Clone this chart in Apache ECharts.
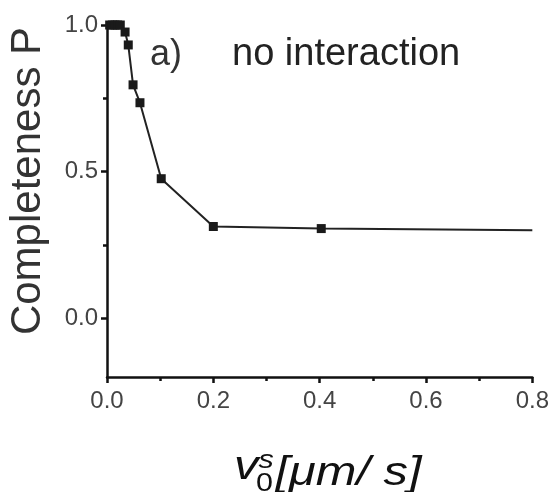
<!DOCTYPE html>
<html>
<head>
<meta charset="utf-8">
<script src="https://cdn.jsdelivr.net/npm/echarts@6/dist/echarts.min.js"></script>
<style>
  html, body { margin: 0; padding: 0; background: #fff; }
  #chart { width: 552px; height: 492px; }
</style>
</head>
<body>
<div id="chart"></div>
<script>
// Drift speed v0^s (µm/s) and completeness P, no interaction case
const speeds = [0.005, 0.01, 0.015, 0.02, 0.025, 0.034, 0.04, 0.049, 0.062, 0.102, 0.2, 0.403, 0.8];
const completeness = [1.0, 1.0, 1.0, 1.0, 1.0, 0.976, 0.932, 0.796, 0.735, 0.476, 0.313, 0.306, 0.30];
// the last point only closes the line, it carries no marker
const markerShown = [true, true, true, true, true, true, true, true, true, true, true, true, false];

const xTicks = [0.0, 0.2, 0.4, 0.6, 0.8];
const yTicks = [0.0, 0.5, 1.0];
const yMinorTicks = [0.25, 0.75];

const FONT = '"Liberation Sans", Arial, sans-serif';
const tickLabelStyle = { fontFamily: FONT, fontSize: 24, color: '#444' };

const chart = echarts.init(document.getElementById('chart'), null, { renderer: 'canvas' });

const points = speeds.map((x, i) => ({
  value: [x, completeness[i]],
  symbolSize: markerShown[i] ? 9 : 0
}));

chart.setOption({
  animation: false,
  backgroundColor: '#fff',
  grid: { left: 107, right: 18, top: 25, bottom: 115 },
  xAxis: {
    type: 'value',
    min: 0, max: 0.8, interval: 0.2,
    axisLine: { show: true, onZero: false, lineStyle: { color: '#111', width: 2.5 } },
    axisTick: { show: true, length: 6, inside: false, lineStyle: { color: '#111', width: 2.5 } },
    minorTick: { show: true, splitNumber: 2, length: 4, lineStyle: { color: '#111', width: 2.5 } },
    splitLine: { show: false },
    axisLabel: Object.assign({ margin: 12, customValues: xTicks, formatter: v => v.toFixed(1) }, tickLabelStyle)
  },
  yAxis: [{
    type: 'value',
    min: -0.2, max: 1.0,
    axisLine: { show: true, onZero: false, lineStyle: { color: '#111', width: 2.5 } },
    axisTick: { show: true, length: 6, customValues: yTicks, lineStyle: { color: '#111', width: 2.5 } },
    splitLine: { show: false },
    axisLabel: Object.assign({ margin: 9, customValues: yTicks, formatter: v => v.toFixed(1) }, tickLabelStyle)
  }, {
    // minor ticks on the left axis
    type: 'value',
    position: 'left',
    min: -0.2, max: 1.0,
    axisLine: { show: false, onZero: false },
    axisTick: { show: true, length: 4, customValues: yMinorTicks, lineStyle: { color: '#111', width: 2.5 } },
    axisLabel: { show: false },
    splitLine: { show: false }
  }],
  series: [{
    type: 'line',
    data: points,
    symbol: 'rect',
    itemStyle: { color: '#1a1a1a' },
    lineStyle: { color: '#222', width: 2 },
    clip: false
  }],
  graphic: [
    {
      type: 'text', x: 150, y: 55,
      style: { text: 'a)', font: '36px ' + FONT, fill: '#333', verticalAlign: 'middle' }
    },
    {
      type: 'text', x: 232, y: 55,
      style: { text: 'no interaction', font: '38px ' + FONT, fill: '#222', verticalAlign: 'middle' }
    },
    {
      type: 'text', x: 28, y: 181, rotation: Math.PI / 2,
      style: { text: 'Completeness P', font: '42px ' + FONT, fill: '#333', align: 'center', verticalAlign: 'middle' }
    },
    // axis title v0^s [µm/ s], drawn in a horizontally widened group
    {
      type: 'group', x: 234, y: 0, scaleX: 1.22,
      children: [
        { type: 'text', x: 0, y: 488,
          style: { text: 'v', font: 'italic 40px ' + FONT, fill: '#111', verticalAlign: 'bottom' } },
        { type: 'text', x: 20, y: 474,
          style: { text: 's', font: 'italic 25px ' + FONT, fill: '#111', verticalAlign: 'bottom' } },
        { type: 'text', x: 18, y: 497,
          style: { text: '0', font: '25px ' + FONT, fill: '#111', verticalAlign: 'bottom' } },
        { type: 'text', x: 34, y: 494,
          style: { text: '[\u03bcm/ s]', font: 'italic 40px ' + FONT, fill: '#111', verticalAlign: 'bottom' } }
      ]
    }
  ]
});
</script>
</body>
</html>
